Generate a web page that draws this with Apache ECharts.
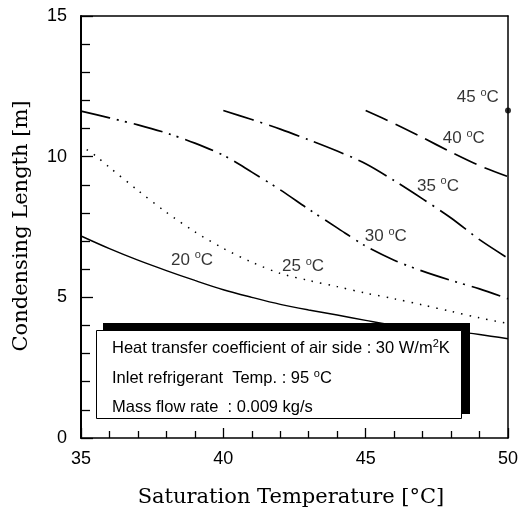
<!DOCTYPE html>
<html><head><meta charset="utf-8">
<script src="https://cdn.jsdelivr.net/npm/echarts@6/dist/echarts.min.js"></script>
<style>html,body{margin:0;padding:0;background:#fff}#c{width:521px;height:517px}</style>
</head><body><div id="c"></div>
<script>
// Data (x: saturation temperature °C, y: condensing length m)
const x20 = [35,36,37,38,39,40,41,42,43,44,45,46,47,48,49,50];
const y20 = [7.18,6.73,6.32,5.95,5.6,5.27,5.0,4.75,4.55,4.37,4.18,4.0,3.9,3.8,3.68,3.53];
const x25 = [35.2,35.5,36,37,38,39,40,41,42,43,44,45,46,47,48,49,50];
const y25 = [10.25,10.04,9.62,8.8,8.02,7.33,6.74,6.25,5.85,5.6,5.38,5.15,4.95,4.73,4.5,4.27,4.07];
const x30 = [35,36,37,38,39,40,41,42,43,44,45,46,47,48,49,50];
const y30 = [11.62,11.38,11.13,10.84,10.48,10.05,9.45,8.82,8.13,7.47,6.82,6.32,5.93,5.6,5.3,4.95];
const x35 = [40,41,42,43,44,45,46,47,48,49,50];
const y35 = [11.64,11.32,10.98,10.6,10.2,9.75,9.15,8.5,7.82,7.05,6.39];
const x40 = [45,46,47,48,49,50];
const y40 = [11.64,11.18,10.68,10.16,9.68,9.29];
const x45 = [50];
const y45 = [11.64];

// Curve labels (annotation anchors, data coords)
const labelNames = ['20','25','30','35','40','45'];
const labelX = [38.9, 42.8, 45.71, 47.54, 48.45, 48.94];
const labelY = [6.33, 6.1, 7.18, 8.96, 10.66, 12.12];

const xTicks = [35, 40, 45, 50];
const yTicks = [0, 5, 10, 15];

const infoLines = [
  '{t|Heat transfer coefficient of air side : 30 W/m}{s|2}{t|K}',
  '{t|Inlet refrigerant  Temp. : 95 }{s|o}{t|C}',
  '{t|Mass flow rate  : 0.009 kg/s}'
];

const pair = (xs, ys) => xs.map((x, i) => [x, ys[i]]);
const SANS = 'Liberation Sans, Arial, sans-serif';
const SERIF = 'DejaVu Serif, serif';

const chart = echarts.init(document.getElementById('c'), null, {renderer: 'canvas'});

const lineSeries = (name, data, type, width) => ({
  type: 'line', name, data, smooth: 0.3, symbol: 'none', z: 3,
  lineStyle: {color: '#000', width, type}
});

const rich = {
  t: {fontFamily: SANS, fontSize: 16.5, color: '#000', lineHeight: 20},
  s: {fontFamily: SANS, fontSize: 11, color: '#000', verticalAlign: 'top', lineHeight: 11}
};
const lrich = {
  n: {fontFamily: SANS, fontSize: 17, color: '#000', lineHeight: 20, textBorderWidth: 0},
  s: {fontFamily: SANS, fontSize: 11, color: '#000', verticalAlign: 'top', lineHeight: 11, textBorderWidth: 0}
};

const blackLine = {color: '#000', width: 1.5};
const tickStyle = {color: '#000', width: 1.3};

chart.setOption({
  animation: false,
  backgroundColor: '#fff',
  grid: {left: 81, right: 13, top: 16, bottom: 79},
  xAxis: [{
    type: 'value', position: 'bottom', min: xTicks[0], max: xTicks[xTicks.length-1], interval: 5,
    axisLine: {show: true, onZero: false, lineStyle: blackLine},
    axisTick: {show: true, inside: true, length: 10, lineStyle: tickStyle},
    minorTick: {show: true, splitNumber: 5, length: 7, lineStyle: tickStyle},
    splitLine: {show: false},
    axisLabel: {show: true, color: '#000', fontSize: 18, fontFamily: SANS, margin: 12}
  }, {
    type: 'value', position: 'top', min: xTicks[0], max: xTicks[xTicks.length-1],
    axisLine: {show: true, onZero: false, lineStyle: blackLine},
    axisTick: {show: false}, axisLabel: {show: false}, splitLine: {show: false}
  }],
  yAxis: [{
    type: 'value', position: 'left', min: yTicks[0], max: yTicks[yTicks.length-1], interval: 5,
    axisLine: {show: true, onZero: false, lineStyle: {color: '#000', width: 2}},
    axisTick: {show: true, inside: true, length: 12, lineStyle: tickStyle},
    minorTick: {show: true, splitNumber: 5, length: 9, lineStyle: tickStyle},
    splitLine: {show: false},
    axisLabel: {show: true, color: '#000', fontSize: 18, fontFamily: SANS, margin: 14}
  }, {
    type: 'value', position: 'right', min: yTicks[0], max: yTicks[yTicks.length-1],
    axisLine: {show: true, onZero: false, lineStyle: blackLine},
    axisTick: {show: false}, axisLabel: {show: false}, splitLine: {show: false}
  }],
  series: [
    lineSeries('20', pair(x20, y20), 'solid', 1.4),
    lineSeries('25', pair(x25, y25), [1.5, 7], 1.5),
    lineSeries('30', pair(x30, y30), [30, 7, 2, 6, 2, 7], 1.7),
    lineSeries('35', pair(x35, y35), [32, 7, 2, 7], 1.7),
    lineSeries('40', pair(x40, y40), [24, 9], 1.7),
    {type: 'scatter', data: pair(x45, y45), symbol: 'circle', symbolSize: 6, itemStyle: {color: '#000'}, z: 5},
    {
      type: 'scatter', z: 6, symbolSize: 0, silent: true,
      data: labelNames.map((n, i) => ({value: [labelX[i], labelY[i]], name: n})),
      label: {show: true, position: 'inside', color: '#000', textBorderWidth: 0,
        formatter: p => '{n|' + p.name + ' }{s|o}{n|C}', rich: lrich}
    }
  ],
  graphic: [
    {type: 'rect', z: 10, shape: {x: 103, y: 323, width: 367, height: 91}, style: {fill: '#000'}},
    {type: 'rect', z: 11, shape: {x: 96.5, y: 330.5, width: 365, height: 88}, style: {fill: '#fff', stroke: '#000', lineWidth: 1}},
    {type: 'text', z: 12, x: 112, y: 348, style: {text: infoLines[0], rich, verticalAlign: 'middle'}},
    {type: 'text', z: 12, x: 112, y: 378, style: {text: infoLines[1], rich, verticalAlign: 'middle'}},
    {type: 'text', z: 12, x: 112, y: 407, style: {text: infoLines[2], rich, verticalAlign: 'middle'}},
    {type: 'text', z: 12, x: 291, y: 498, style: {text: 'Saturation Temperature [°C]', font: '21px ' + SERIF, fill: '#000', align: 'center', verticalAlign: 'middle'}},
    {type: 'text', z: 12, x: 22, y: 226, rotation: Math.PI / 2, style: {text: 'Condensing Length [m]', font: '21px ' + SERIF, fill: '#000', align: 'center', verticalAlign: 'middle'}}
  ]
});
</script>
</body></html>
